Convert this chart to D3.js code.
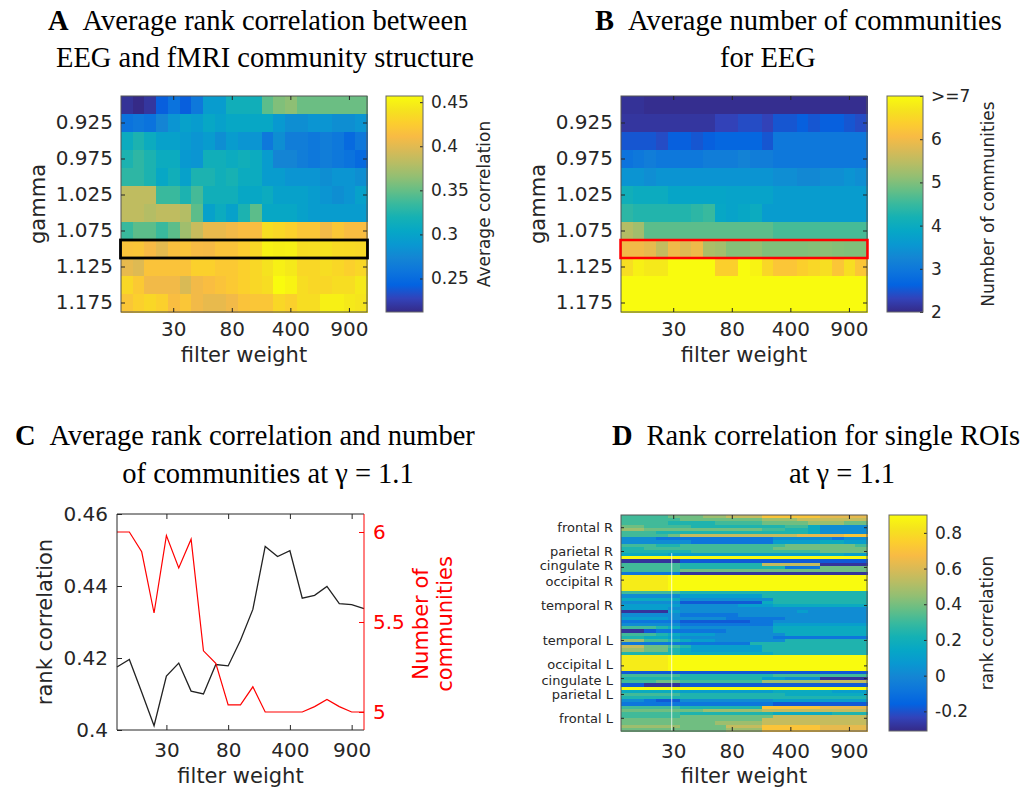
<!DOCTYPE html>
<html><head><meta charset="utf-8">
<script src="https://cdn.jsdelivr.net/npm/d3@7"></script>
<style>body{margin:0;background:#fff}svg{display:block}</style>
</head><body><svg id="c" width="1034" height="788"></svg>
<script>
// ---------------- DATA ----------------
const filterWeights = [1,5,10,20,30,40,50,60,70,80,90,100,200,300,400,500,600,700,800,900,1000];
const xTickWeights = [30,80,400,900];
const gammas = [0.9,0.925,0.95,0.975,1.0,1.025,1.05,1.075,1.1,1.125,1.15,1.175];
const gammaTicks = [0.925,0.975,1.025,1.075,1.125,1.175];
const gammaHighlight = 1.1;

// Panel C (and row gamma = 1.1 of panels A and B)
const rankCorr = [0.4175,0.4196,0.4105,0.4012,0.4150,0.4186,0.4108,0.4100,0.4182,0.4178,0.4249,0.4335,0.4510,0.4482,0.4498,0.4366,0.4374,0.4399,0.4351,0.4348,0.4337];
const nComm = [6.0,6.0,5.89,5.55,5.98,5.80,5.96,5.34,5.27,5.04,5.04,5.14,5.0,5.0,5.0,5.0,5.03,5.07,5.03,5.0,5.0];
const corrTicks = [0.40,0.42,0.44,0.46];
const commTicks = [5,5.5,6];

// Panel A: average rank correlation (rows = gamma, cols = filter weight)
const avgCorrGrid = [
 [0.217,0.212,0.219,0.241,0.256,0.241,0.261,0.293,0.293,0.315,0.315,0.315,0.347,0.359,0.364,0.352,0.352,0.352,0.352,0.352,0.352],
 [0.256,0.261,0.256,0.273,0.286,0.298,0.293,0.305,0.298,0.305,0.305,0.305,0.305,0.290,0.281,0.281,0.286,0.286,0.281,0.281,0.286],
 [0.310,0.322,0.310,0.298,0.298,0.293,0.286,0.293,0.281,0.293,0.286,0.286,0.261,0.281,0.266,0.266,0.261,0.266,0.261,0.249,0.261],
 [0.322,0.330,0.322,0.310,0.310,0.290,0.286,0.315,0.315,0.310,0.315,0.310,0.293,0.273,0.273,0.266,0.261,0.266,0.261,0.256,0.249],
 [0.330,0.330,0.322,0.305,0.315,0.298,0.322,0.322,0.315,0.320,0.310,0.310,0.293,0.293,0.286,0.286,0.286,0.281,0.286,0.286,0.281],
 [0.384,0.384,0.384,0.335,0.335,0.322,0.339,0.315,0.315,0.315,0.305,0.305,0.310,0.298,0.298,0.298,0.293,0.286,0.281,0.286,0.298],
 [0.384,0.384,0.379,0.384,0.384,0.379,0.347,0.298,0.310,0.298,0.322,0.347,0.305,0.305,0.305,0.298,0.293,0.293,0.293,0.293,0.293],
 [0.335,0.347,0.347,0.335,0.347,0.371,0.388,0.403,0.403,0.408,0.413,0.413,0.437,0.433,0.428,0.420,0.420,0.408,0.420,0.413,0.413],
 rankCorr,
 [0.403,0.398,0.418,0.418,0.418,0.418,0.428,0.428,0.423,0.423,0.428,0.433,0.440,0.450,0.445,0.433,0.433,0.437,0.433,0.428,0.433],
 [0.433,0.423,0.408,0.408,0.408,0.396,0.408,0.413,0.418,0.423,0.428,0.433,0.437,0.457,0.452,0.437,0.433,0.433,0.437,0.437,0.445],
 [0.420,0.428,0.433,0.428,0.413,0.420,0.408,0.403,0.403,0.408,0.418,0.420,0.420,0.433,0.428,0.437,0.437,0.450,0.450,0.445,0.442]
];
const avgCorrRange = [0.212,0.457];
const avgCorrTicks = [0.25,0.3,0.35,0.4,0.45];

// Panel B: average number of communities
const nCommGrid = [
 [2.1,2.1,2.05,2.05,2.05,2.05,2.05,2.05,2.05,2.05,2.05,2.05,2.05,2.05,2.05,2.05,2.05,2.05,2.05,2.05,2.05],
 [2.15,2.15,2.15,2.15,2.15,2.15,2.15,2.15,2.3,2.3,2.4,2.4,2.3,2.5,2.5,2.6,2.5,2.6,2.6,2.5,2.4],
 [2.5,2.5,2.5,2.4,2.6,2.6,2.5,2.6,2.7,2.7,2.7,2.7,2.5,3.0,3.0,3.0,3.0,3.0,3.0,3.0,3.0],
 [2.9,3.0,3.1,3.0,3.0,3.0,3.0,3.1,3.1,3.1,3.2,3.1,3.1,3.0,3.0,3.0,3.0,3.0,3.0,3.0,3.0],
 [3.5,3.5,3.4,3.5,3.5,3.5,3.5,3.5,3.5,3.5,3.5,3.5,3.5,3.4,3.4,3.3,3.3,3.4,3.4,3.5,3.4],
 [4.1,4.0,4.0,4.0,3.85,3.85,3.85,3.85,3.85,3.8,3.8,3.8,3.8,3.65,3.65,3.65,3.65,3.65,3.65,3.65,3.65],
 [4.4,4.3,4.3,4.3,4.3,4.3,4.4,4.5,3.9,3.8,3.9,4.0,3.65,3.65,3.65,3.65,3.65,3.65,3.65,3.65,3.65],
 [5.4,5.25,4.75,4.75,4.75,4.75,4.75,4.75,4.75,4.75,4.75,4.75,4.75,4.6,4.6,4.6,4.6,4.6,4.6,4.6,4.6],
 nComm,
 [6.6,6.85,6.75,6.75,7,7,7,7,6.4,6.4,7,6.9,6.5,6.25,6.25,6.4,6.5,6.6,6.25,6.6,6.25],
 [7.5,7.5,7.5,7.5,7.5,7.5,7.5,7.5,7.5,7.5,7.5,7.5,7.5,7.5,7.5,7.5,7.5,7.5,7.5,7.5,7.5],
 [8,8,8,8,8,8,8,8,8,8,8,8,8,8,8,8,8,8,8,8,8]
];
const nCommRange = [2,7];
const nCommCbTicks = [2,3,4,5,6,7];
const nCommCbLabels = ["2","3","4","5","6",">=7"];

// Panel D: rank correlation for single ROIs (68 ROIs x 21 filter weights), coded by level
const roiGroups = ["frontal R","parietal R","cingulate R","occipital R","temporal R","temporal L","occipital L","cingulate L","parietal L","frontal L"];
const roiGroupSize = [8,7,3,5,11,11,5,3,7,8];
const roiLevelKey = "abcdefghijklmno";
const roiLevelValue = [-0.28,-0.18,-0.08,0.02,0.10,0.17,0.24,0.31,0.39,0.47,0.55,0.63,0.71,0.85,0.90];
const roiRows = [
"hhhhiiijjkkkmmmmmllll","hhhhhiiiiiiijjjkkkkkk","hhhhgggghhhhiiiijjjii","iihhhhgggggggghhfdddd",
"jjiiiiiiiiiihhggfdddd","hhhgggggggggggggfdddd","hhhhikkkkkkkkkkllllmm","dddccccccccccdddddcdd",
"ddddddccccccceeeeffee","hhhgghhhhhhhhhiiiiiih","gghhhhhhhhhhhiiiiiiii","gggggghhhhhhhhhhhiiii",
"ffffeeeeeeeeeeeeeffee","ooooooooooooooooooooo","aaaaabbbbbbbbbbbbbbbb","hhhhhgggggggkkkkkaaaa",
"hhhhhgggggggggccciiii","hhhhhiiiiiiiiiiiiiiii","cccccaaaaaaaaaaaaaaaa","nnnnooooooooooooooooo",
"nnnnooooooooooooooooo","nnnnooooooooooooooooo","nnnnooooooooooooooooo","nnnnooooooooooooooooo",
"hhhhhgggggggggggggggg","dddddeeeeeeeggggggggg","fffffddddddddgggggggg","dddddbbbbbbbfgggggggg",
"eeeeedddddeeeffffffff","eeeeddddddddddddddddd","aaaaeddddddddddeddddd","dddddcccccddddddddddd",
"eeeedddddcccccddddddd","cccccbbbbbbccdddddddd","dddddcccccccceeeeeeee","hhhgfddddddddffffffff",
"aabccccccddddffffffff","hhhgfeeeddddddfffffff","ggffeddddddddcccccccc","jjhhgfeeddddddggggggg",
"cccccccccccgggggggggg","kkiihgeeeeeeggggggggg","jjiigfeeeeeeggggggggg","gggggffffffffgggggggg",
"nnnnooooooooooooooooo","nnnnooooooooooooooooo","nnnnooooooooooooooooo","nnnnooooooooooooooooo",
"nnnnooooooooooooooooo","bbbbbbbbbbbbbbbbbbbbb","hhhhhgggggggghhhhhhhh","ggggggggggggeedddaaaa",
"hhhiihhhhhhhjjjjjkkkk","bbaaabbbbbbbbbbbbbbbb","ooooooooooooooooooooo","fffffeeeeeeeefffffeee",
"hhhhhgggggggggfffffff","ggggggggggggggggggggg","ddcbbddddddddeeeeeeee","cccccccccccccbbbbbbbb",
"hhhhhgggggggmmmmmllll","iiiiiiijjjjjkkkkkkkkk","hhhhhggggggggfffffggg","hhhhhiiiiiiiikkkkkkkk",
"iiiiiiiiiiiikkkkkkkkk","iiiiiiiijjjjkkkkkkkkk","jjjjjiiiikkkmmmmmllll","iiiiiiiiijjjmmmmmllll"
];
const roiRange = [-0.31,0.90];
const roiCbTicks = [-0.2,0,0.2,0.4,0.6,0.8];

// MATLAB parula colormap (every 4th entry of the 64-colour map)
const parulaStops = [
 [0.2081,0.1663,0.5292],[0.1959,0.2645,0.7279],[0.0117,0.3875,0.8820],[0.0498,0.4586,0.8641],
 [0.0793,0.5200,0.8312],[0.0343,0.5966,0.8199],[0.0228,0.6535,0.7768],[0.0843,0.6928,0.7062],
 [0.2178,0.7250,0.6193],[0.3953,0.7459,0.5244],[0.5709,0.7485,0.4494],[0.7184,0.7411,0.3905],
 [0.8507,0.7299,0.3360],[0.9739,0.7314,0.2666],[0.9880,0.8066,0.1794],[0.9589,0.8949,0.1132],
 [0.9763,0.9831,0.0538]
];

// ---------------- DRAWING ----------------
const FONT = "'DejaVu Sans', sans-serif";
const SERIF = "'Liberation Serif', 'Times New Roman', serif";
const AX = "#262626";
const svg = d3.select("#c");
svg.append("rect").attr("width",1034).attr("height",788).attr("fill","#fff");
const defs = svg.append("defs");
const parulaRGB = parulaStops.map(c => d3.rgb(c[0]*255,c[1]*255,c[2]*255));
const parula = d3.piecewise(d3.interpolateRgb, parulaRGB);
function cmap(range){ const s = d3.scaleLinear().domain(range).range([0,1]).clamp(true); return v => parula(s(v)); }

function styleAxis(g, size, color){
  g.select(".domain").remove();
  g.attr("font-size", size).attr("font-family", FONT).attr("color", color || AX);
  g.selectAll(".tick line").attr("stroke-width", 1);
}

function heatmap(grid, rowKeys, x0, y0, w, h, color){
  const xs = d3.scaleBand().domain(filterWeights).range([x0, x0+w]);
  const ys = d3.scaleBand().domain(rowKeys).range([y0, y0+h]);
  const g = svg.append("g").attr("shape-rendering","crispEdges");
  grid.forEach((row, ri) => {
    g.selectAll(null).data(row).join("rect")
      .attr("x", (d,ci) => xs(filterWeights[ci]))
      .attr("y", ys(rowKeys[ri]))
      .attr("width", xs.bandwidth()+0.7)
      .attr("height", ys.bandwidth()+0.7)
      .attr("fill", d => color(d));
  });
  return {xs, ys};
}

function frame(x0, y0, w, h){
  svg.append("rect").attr("x",x0).attr("y",y0).attr("width",w).attr("height",h)
    .attr("fill","none").attr("stroke","#555").attr("stroke-width",1);
}

function xAxes(xs, x0, y0, w, h, pad){
  svg.append("g").attr("transform",`translate(0,${y0+h})`)
    .call(d3.axisBottom(xs).tickValues(xTickWeights).tickSize(-4).tickPadding(pad)).call(styleAxis, 20);
  svg.append("g").attr("transform",`translate(0,${y0})`)
    .call(d3.axisTop(xs).tickValues(xTickWeights).tickSize(-4).tickFormat("")).call(styleAxis, 20);
}

function colorbar(x, y, w, h, range, ticks, labels, label, labelX){
  const id = "g" + Math.round(x);
  const grad = defs.append("linearGradient").attr("id", id).attr("x1",0).attr("y1",1).attr("x2",0).attr("y2",0);
  parulaRGB.forEach((c,i) => grad.append("stop").attr("offset", i/(parulaRGB.length-1)).attr("stop-color", c));
  svg.append("rect").attr("x",x).attr("y",y).attr("width",w).attr("height",h).attr("fill",`url(#${id})`);
  const s = d3.scaleLinear().domain(range).range([y+h, y]);
  svg.append("g").attr("transform",`translate(${x+w},0)`)
    .call(d3.axisRight(s).tickValues(ticks).tickFormat((d,i) => labels[i]).tickSize(-3).tickPadding(8))
    .call(styleAxis, 17);
  svg.append("rect").attr("x",x).attr("y",y).attr("width",w).attr("height",h).attr("fill","none").attr("stroke","#666");
  svg.append("text").attr("transform",`translate(${labelX},${y+h/2}) rotate(-90)`)
    .attr("text-anchor","middle").attr("font-family",FONT).attr("font-size",17).attr("fill",AX).text(label);
}

function vlabel(x, y, txt, color, size){
  svg.append("text").attr("transform",`translate(${x},${y}) rotate(-90)`)
    .attr("text-anchor","middle").attr("font-family",FONT).attr("font-size",size||21).attr("fill",color||AX).text(txt);
}
function hlabel(x, y, txt){
  svg.append("text").attr("x",x).attr("y",y).attr("text-anchor","middle")
    .attr("font-family",FONT).attr("font-size",21).attr("fill",AX).text(txt);
}
function title(x, y, letter, txt){
  const t = svg.append("text").attr("x",x).attr("y",y).attr("font-family",SERIF).attr("font-size",28.5).attr("fill","#000");
  t.append("tspan").attr("font-weight","bold").text(letter);
  t.append("tspan").attr("dx",14).text(txt);
}
function title2(cx, y, txt){
  svg.append("text").attr("x",cx).attr("y",y).attr("text-anchor","middle")
    .attr("font-family",SERIF).attr("font-size",28.5).attr("fill","#000").text(txt);
}

function gammaPanel(grid, x0, range, boxColor, boxWidth){
  const y0 = 96, w = 246, h = 216;
  const {xs, ys} = heatmap(grid, gammas, x0, y0, w, h, cmap(range));
  frame(x0, y0, w, h);
  xAxes(xs, x0, y0, w, h, 10);
  svg.append("g").attr("transform",`translate(${x0},0)`)
    .call(d3.axisLeft(ys).tickValues(gammaTicks).tickFormat(d3.format(".3f")).tickSize(-4).tickPadding(8)).call(styleAxis, 20);
  svg.append("g").attr("transform",`translate(${x0+w},0)`)
    .call(d3.axisRight(ys).tickValues(gammaTicks).tickFormat("").tickSize(-4)).call(styleAxis, 20);
  svg.append("rect").attr("x",x0-0.5).attr("y",ys(gammaHighlight)).attr("width",w+1).attr("height",ys.bandwidth())
    .attr("fill","none").attr("stroke",boxColor).attr("stroke-width",boxWidth);
  vlabel(x0-76, y0+h/2, "gamma");
  hlabel(x0+w/2, 362, "filter weight");
}

// Titles
title(48, 30, "A", "Average rank correlation between");
title2(265, 67, "EEG and fMRI community structure");
title(595, 30, "B", "Average number of communities");
title2(768, 67, "for EEG");
title(15, 445, "C", "Average rank correlation and number");
title2(268, 483, "of communities at \u03B3 = 1.1");
title(612, 445, "D", "Rank correlation for single ROIs");
title2(842, 483, "at \u03B3 = 1.1");

// Panel A
gammaPanel(avgCorrGrid, 121, avgCorrRange, "#000", 2.8);
colorbar(386, 96, 37, 216, avgCorrRange, avgCorrTicks, avgCorrTicks.map(String), "Average correlation", 490);

// Panel B
gammaPanel(nCommGrid, 621, nCommRange, "#ff0000", 2.5);
colorbar(887, 96, 36, 216, nCommRange, nCommCbTicks, nCommCbLabels, "Number of communities", 994);

// Panel C
(function(){
  const x0 = 117, y0 = 514, w = 247, h = 216;
  const xp = d3.scalePoint().domain(filterWeights).range([x0, x0+w]);
  const yl = d3.scaleLinear().domain([0.40,0.46]).range([y0+h, y0]);
  const yr = d3.scaleLinear().domain([4.9,6.1]).range([y0+h, y0]);
  const g = svg.append("g");
  g.append("path").datum(rankCorr).attr("fill","none").attr("stroke","#222").attr("stroke-width",1.3)
    .attr("d", d3.line().x((d,i) => xp(filterWeights[i])).y(d => yl(d)));
  g.append("path").datum(nComm).attr("fill","none").attr("stroke","#ff0000").attr("stroke-width",1.2)
    .attr("d", d3.line().x((d,i) => xp(filterWeights[i])).y(d => yr(d)));
  svg.append("line").attr("x1",x0).attr("x2",x0+w).attr("y1",y0).attr("y2",y0).attr("stroke",AX);
  svg.append("line").attr("x1",x0).attr("x2",x0+w).attr("y1",y0+h).attr("y2",y0+h).attr("stroke",AX);
  svg.append("line").attr("x1",x0).attr("x2",x0).attr("y1",y0).attr("y2",y0+h).attr("stroke",AX);
  svg.append("line").attr("x1",x0+w).attr("x2",x0+w).attr("y1",y0).attr("y2",y0+h).attr("stroke","#ff0000");
  svg.append("g").attr("transform",`translate(0,${y0+h})`)
    .call(d3.axisBottom(xp).tickValues(xTickWeights).tickSize(-5).tickPadding(13)).call(styleAxis, 20);
  svg.append("g").attr("transform",`translate(0,${y0})`)
    .call(d3.axisTop(xp).tickValues(xTickWeights).tickSize(-5).tickFormat("")).call(styleAxis, 20);
  svg.append("g").attr("transform",`translate(${x0},0)`)
    .call(d3.axisLeft(yl).tickValues(corrTicks).tickFormat(d => String(+d.toFixed(2))).tickSize(-5).tickPadding(9)).call(styleAxis, 20);
  svg.append("g").attr("transform",`translate(${x0+w},0)`)
    .call(d3.axisRight(yr).tickValues(commTicks).tickFormat(d => String(d)).tickSize(-5).tickPadding(9)).call(styleAxis, 20, "#ff0000");
  vlabel(52, y0+h/2, "rank correlation");
  vlabel(428, y0+h/2+2, "Number of", "#ff0000");
  vlabel(452, y0+h/2+2, "communities", "#ff0000");
  hlabel(x0+w/2, 783, "filter weight");
})();

// Panel D
(function(){
  const x0 = 621, y0 = 515, w = 246, h = 216;
  const roiIdx = d3.range(roiRows.length);
  const grid = roiRows.map(s => Array.from(s, ch => roiLevelValue[roiLevelKey.indexOf(ch)]));
  const {xs, ys} = heatmap(grid, roiIdx, x0, y0, w, h, cmap(roiRange));
  // thin light seam visible in the original image
  svg.append("line").attr("x1", xs(30)+xs.bandwidth()/2-2).attr("x2", xs(30)+xs.bandwidth()/2-2)
    .attr("y1", ys(12)).attr("y2", y0+h).attr("stroke","#fff").attr("stroke-opacity",0.75).attr("stroke-width",1);
  frame(x0, y0, w, h);
  xAxes(xs, x0, y0, w, h, 13);
  let start = 0;
  const gl = svg.append("g");
  // crowded labels are pushed apart slightly so they stay legible
  const nudge = {"cingulate R": -1.6, "occipital R": 1.6, "occipital L": -1.6, "cingulate L": 1.6};
  roiGroups.forEach((name, i) => {
    const yc = ys(start) + roiGroupSize[i]*ys.step()/2;
    start += roiGroupSize[i];
    gl.append("text").attr("x", x0-8).attr("y", yc + (nudge[name] || 0)).attr("dy","0.35em").attr("text-anchor","end")
      .attr("font-family",FONT).attr("font-size",13).attr("fill",AX).text(name);
    gl.append("line").attr("x1",x0).attr("x2",x0+3).attr("y1",yc).attr("y2",yc).attr("stroke",AX);
    gl.append("line").attr("x1",x0+w).attr("x2",x0+w-3).attr("y1",yc).attr("y2",yc).attr("stroke",AX);
  });
  hlabel(x0+w/2, 783, "filter weight");
  colorbar(889, 515, 38, 216, roiRange, roiCbTicks, roiCbTicks.map(String), "rank correlation", 993);
})();
</script>
</body></html>
